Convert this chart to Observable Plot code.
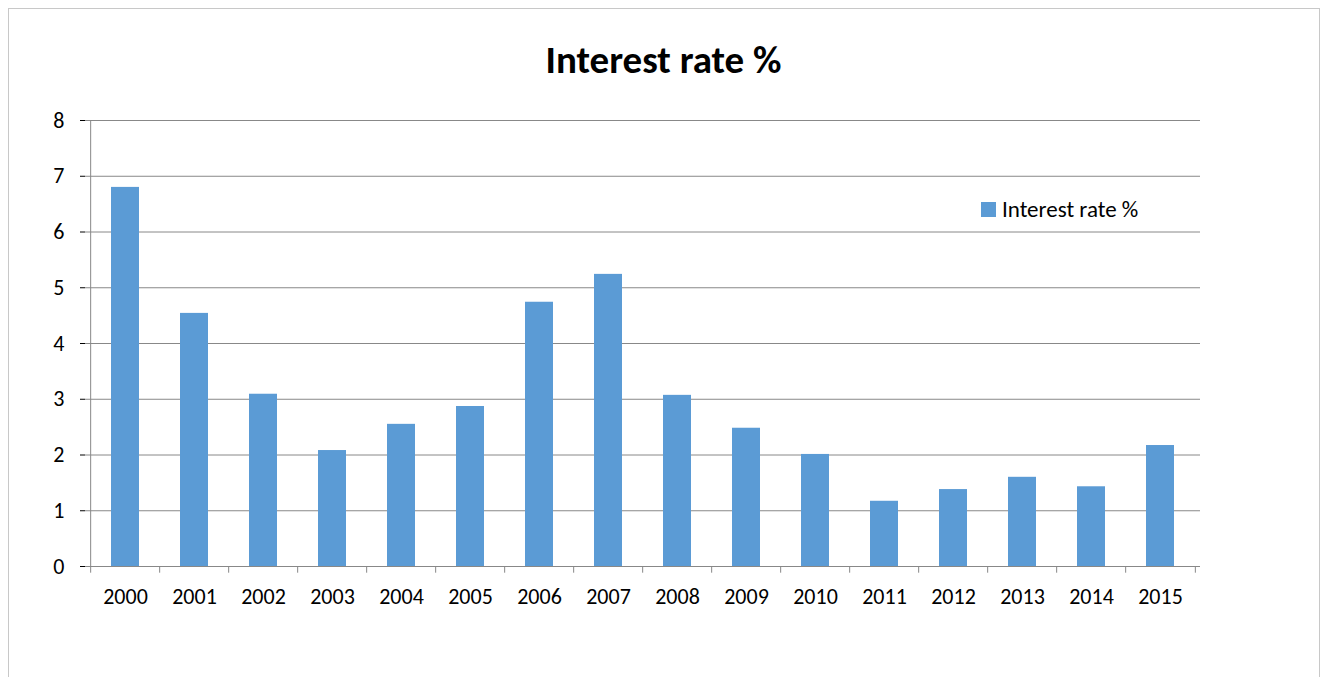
<!DOCTYPE html>
<html><head><meta charset="utf-8">
<script src="https://cdn.jsdelivr.net/npm/d3@7"></script>
<script src="https://cdn.jsdelivr.net/npm/@observablehq/plot@0.6"></script>
<style>
body{margin:0;background:#fff;font-family:Carlito,"Liberation Sans",sans-serif;}
#wrap{position:relative;width:1327px;height:677px;}
#frame{position:absolute;left:8px;top:8px;width:1310px;height:680px;border:1px solid #c8c8c8;}
#title{position:absolute;left:0;width:1327px;top:36px;text-align:center;font-size:39px;font-weight:bold;}
#legend{position:absolute;left:981px;top:195px;font-size:23px;display:flex;align-items:center;}
#legend span{display:inline-block;width:15px;height:15px;background:#5b9bd5;margin-right:6px;}
#chart{position:absolute;left:0;top:0;}
</style></head>
<body><div id="wrap"><div id="frame"></div><div id="chart"></div>
<div id="title">Interest rate %</div>
<div id="legend"><span></span>Interest rate %</div></div>
<script>
const years = ["2000","2001","2002","2003","2004","2005","2006","2007","2008","2009","2010","2011","2012","2013","2014","2015"];
const rates = [6.8,4.54,3.09,2.08,2.55,2.87,4.74,5.24,3.07,2.48,2.01,1.17,1.38,1.6,1.43,2.17];
const data = years.map((y,i)=>({year:y, rate:rates[i]}));
const half = (1200 - 85) / years.length / 2;

let chart = Plot.plot({
  width: 1327, height: 677,
  marginLeft: 85, marginRight: 127, marginTop: 120, marginBottom: 111,
  style: {fontSize: "22px", fontFamily: "Carlito, 'Liberation Sans', sans-serif", background: "transparent", color: "#000"},
  x: {domain: years, paddingInner: 0.6, paddingOuter: 0.3, label: null, tickSize: 0, tickPadding: 22},
  y: {domain: [0, 8], ticks: 8, label: null, tickSize: 5, tickPadding: 16},
  marks: [
    Plot.gridY({ticks: 8, stroke: "#888", strokeOpacity: 1}),
    Plot.ruleX([years[0]], {dx: -half, stroke: "#888"}),
    Plot.barY(data, {x: "year", y: "rate", fill: "#5b9bd5"}),
    Plot.ruleY([0], {stroke: "#888"}),
    Plot.ruleX(years, {x: d => d, dx: -half, y1: 0, y2: -0.12, stroke: "#888"}),
    Plot.ruleX([years[years.length-1]], {x: d => d, dx: half, y1: 0, y2: -0.12, stroke: "#888"})
  ]
});
d3.select("#chart").append(() => chart);
</script></body></html>
